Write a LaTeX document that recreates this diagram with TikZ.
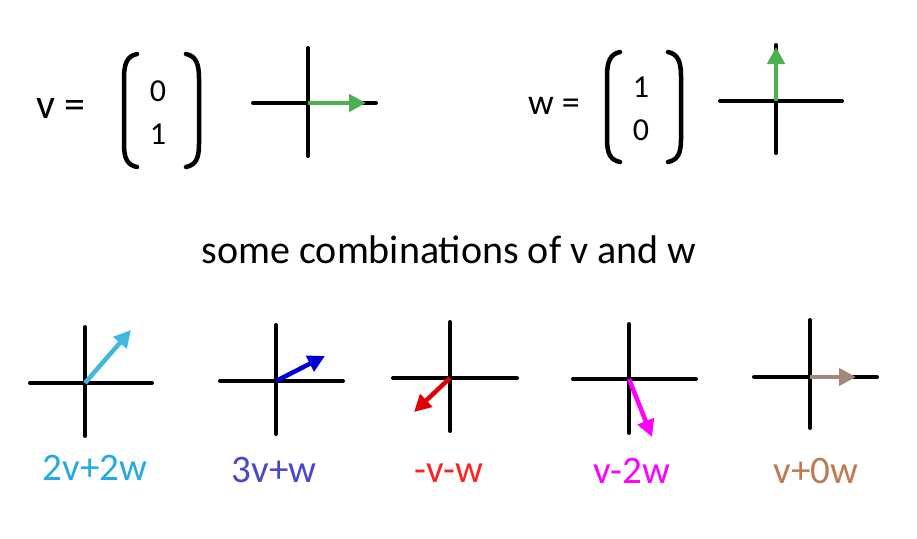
\documentclass[tikz,border=0pt]{standalone}
\usepackage{fontspec}
\setmainfont{Carlito}[Numbers=Lining]
\usetikzlibrary{arrows.meta}
\definecolor{vgreen}{RGB}{76,175,80}
\definecolor{cyanA}{RGB}{64,184,224}
\definecolor{cyanL}{RGB}{36,170,226}
\definecolor{blueA}{RGB}{0,0,215}
\definecolor{blueL}{RGB}{72,72,200}
\definecolor{redA}{RGB}{225,0,0}
\definecolor{redL}{RGB}{250,35,35}
\definecolor{magA}{RGB}{255,0,255}
\definecolor{brownA}{RGB}{160,136,122}
\definecolor{brownL}{RGB}{190,122,82}
\tikzset{
  axis/.style={line width=4pt, line cap=round, black},
  vec/.style={line width=4.5pt, -{Triangle[length=17pt,width=17pt]}},
  paren/.style={line width=4.5pt, line cap=round, black},
  bigtxt/.style={font=\fontsize{40}{48}\selectfont, inner sep=0pt, anchor=base},
  lbl/.style={font=\fontsize{39}{46}\selectfont, inner sep=0pt, anchor=base},
  ent/.style={font=\fontsize{32}{38}\selectfont, inner sep=0pt, anchor=base},
}
\newcommand{\mycross}[7]{% name, cx, cy, xl, xr, yt, yb
  \coordinate (#1o) at (#2,#3);
  \coordinate (#1l) at (#4,#3);
  \coordinate (#1r) at (#5,#3);
  \coordinate (#1t) at (#2,#6);
  \coordinate (#1b) at (#2,#7);
  \draw[axis] (#1l) -- (#1r);
  \draw[axis] (#1t) -- (#1b);
}
\begin{document}
\begin{tikzpicture}[x=1pt,y=-1pt]
\useasboundingbox[fill=white] (0,0) rectangle (917,538);

% ---- v definition ----
\node[bigtxt, font=\fontsize{42}{50}\selectfont] (veq) at (61,118) {v =};
\draw[paren] (137,54) .. controls (127,56) and (124,64) .. (124,78) -- (124,144) .. controls (124,158) and (127,165) .. (137,167);
\draw[paren] (186,54) .. controls (196,56) and (199,64) .. (199,78) -- (199,144) .. controls (199,158) and (196,165) .. (186,167);
\node[ent] (v1) at (158,101) {0};
\node[ent] (v2) at (158,144) {1};
\mycross{A}{308}{103}{253}{376}{48}{156}
\coordinate (Av) at (366,103);
\draw[vec, vgreen] (Ao) -- (Av);

% ---- w definition ----
\node[bigtxt, font=\fontsize{36}{42}\selectfont] (weq) at (554,114) {w =};
\draw[paren] (620,52) .. controls (610,54) and (607,62) .. (607,76) -- (607,139) .. controls (607,153) and (610,160) .. (620,162);
\draw[paren] (668,52) .. controls (678,54) and (681,62) .. (681,76) -- (681,139) .. controls (681,153) and (678,160) .. (668,162);
\node[ent] (w1) at (641,97) {1};
\node[ent] (w2) at (641,140) {0};
\mycross{B}{776}{101}{720}{842}{45}{153}
\coordinate (Bw) at (776,47);
\draw[vec, vgreen] (Bo) -- (Bw);

% ---- title ----
\node[bigtxt] (title) at (449,263) {some combinations of v and w};

% ---- combinations ----
\mycross{C}{85}{383}{30}{152}{327}{436}
\coordinate (Ct) at (131,330);
\draw[vec, cyanA] (Co) -- (Ct);
\node[lbl, text=cyanL] (Cl) at (95,480) {2v+2w};

\mycross{D}{276}{381}{220}{343}{325}{434}
\coordinate (Dt) at (325,356);
\draw[vec, blueA] (Do) -- (Dt);
\node[lbl, text=blueL] (Dl) at (274,482) {3v+w};

\mycross{E}{450}{378}{393}{517}{322}{431}
\coordinate (Et) at (414,412);
\draw[vec, redA] (Eo) -- (Et);
\node[lbl, text=redL] (El) at (449,482) {-v-w};

\mycross{F}{629}{379}{573}{696}{324}{433}
\coordinate (Ft) at (652,437);
\draw[vec, magA] (Fo) -- (Ft);
\node[lbl, text=magA] (Fl) at (632,483) {v-2w};

\mycross{G}{810}{377}{754}{877}{320}{428}
\coordinate (Gt) at (856,377);
\draw[vec, brownA] (Go) -- (Gt);
\node[lbl, text=brownL] (Gl) at (816,483) {v+0w};
\end{tikzpicture}
\end{document}
